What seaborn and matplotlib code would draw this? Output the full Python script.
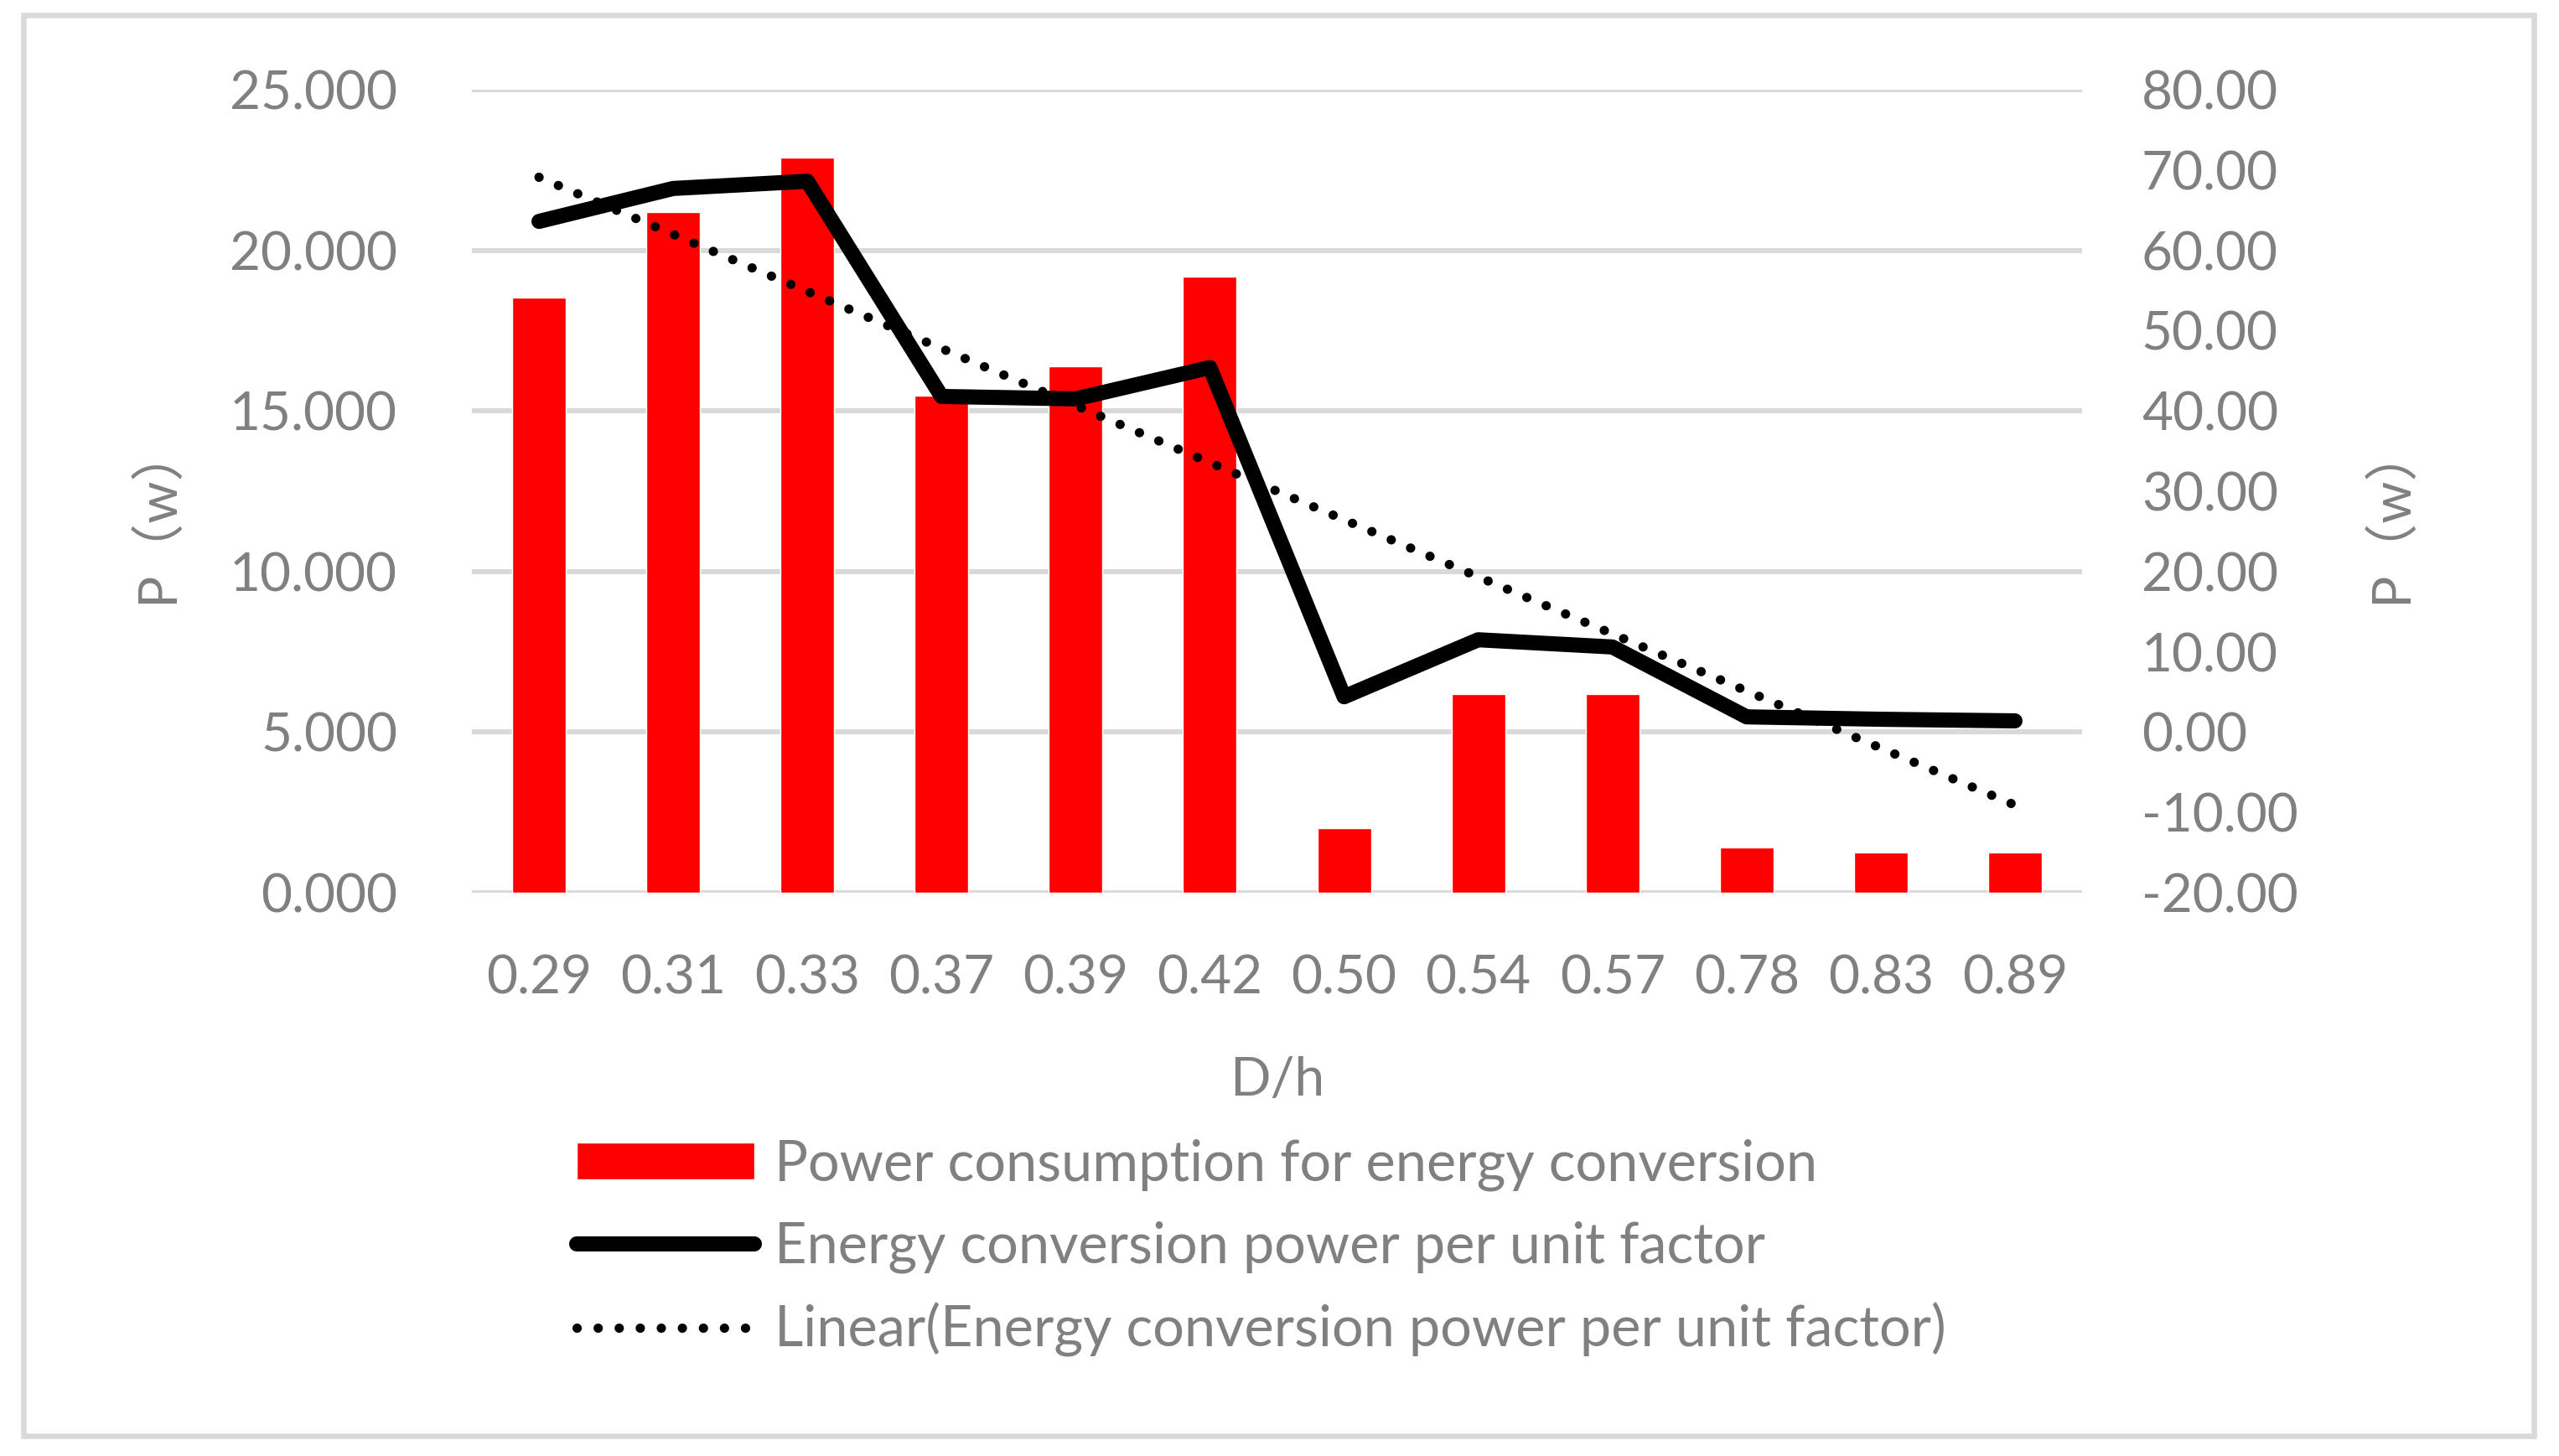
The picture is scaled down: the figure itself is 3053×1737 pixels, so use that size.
import numpy as np
import pandas as pd
import matplotlib
matplotlib.use("Agg")
import matplotlib.pyplot as plt
import seaborn as sns
from matplotlib.patches import Rectangle
from matplotlib.ticker import FormatStrFormatter, MultipleLocator

# =========================================================
# DATA
# =========================================================

d_over_h = ["0.29", "0.31", "0.33", "0.37", "0.39", "0.42",
            "0.50", "0.54", "0.57", "0.78", "0.83", "0.89"]

# left axis: power consumption for energy conversion (bars)
consumption = [18.53, 21.19, 22.89, 15.48, 16.40, 19.18,
               2.01, 6.18, 6.18, 1.41, 1.25, 1.25]

# right axis: energy conversion power per unit factor (line)
per_unit = [63.6, 67.7, 68.6, 41.8, 41.5, 45.4,
            4.4, 11.5, 10.6, 1.9, 1.6, 1.4]

bar_label = "Power consumption for energy conversion"
line_label = "Energy conversion power per unit factor"
trend_label = "Linear(Energy conversion power per unit factor)"

df = pd.DataFrame({"D/h": d_over_h, "consumption": consumption, "per_unit": per_unit})

# =========================================================
# STYLE
# =========================================================

sns.set_style("white")
plt.rcParams["font.family"] = ["Lato", "Noto Sans CJK SC", "DejaVu Sans"]
plt.rcParams["axes.unicode_minus"] = False

grey_text = "#808080"
grid_col = "#D9D9D9"
fs = 46
legend_fs = 48

W, H = 3053, 1737
fig = plt.figure(figsize=(W / 100, H / 100), dpi=100)

# axes box in pixels: x 563..2484, y 107..1065
ax = fig.add_axes([563 / W, 1 - 1065 / H, (2484 - 563) / W, (1065 - 107) / H])

# =========================================================
# BARS
# =========================================================

sns.barplot(data=df, x="D/h", y="consumption", color="#FF0000",
            saturation=1, width=0.4, ax=ax, zorder=2)

ax.set_ylim(0, 25)
ax.yaxis.set_major_locator(MultipleLocator(5))
ax.yaxis.set_major_formatter(FormatStrFormatter("%.3f"))
ax.set_xlim(-0.5, len(d_over_h) - 0.5)
ax.grid(axis="y", color=grid_col, linewidth=4.3, zorder=0)
ax.grid(axis="x", visible=False)
ax.set_axisbelow(True)

# =========================================================
# LINE + LINEAR TREND (right axis)
# =========================================================

ax2 = ax.twinx()
xpos = np.arange(len(d_over_h))

sns.lineplot(x=xpos, y=df["per_unit"], ax=ax2, color="black",
             linewidth=13, solid_capstyle="round", solid_joinstyle="round",
             label=line_label, legend=False)

slope, intercept = np.polyfit(xpos, df["per_unit"], 1)
trend = slope * xpos + intercept
sns.lineplot(x=xpos, y=trend, ax=ax2, color="black", linewidth=8,
             linestyle=(0, (0.01, 2.25)), dash_capstyle="round",
             label=trend_label, legend=False)

ax2.set_ylim(-20, 80)
ax2.yaxis.set_major_locator(MultipleLocator(10))
ax2.yaxis.set_major_formatter(FormatStrFormatter("%.2f"))
ax2.grid(False)

for a in (ax, ax2):
    for s in a.spines.values():
        s.set_visible(False)

ax.tick_params(axis="y", length=0, pad=64, labelsize=fs, labelcolor=grey_text)
ax.tick_params(axis="x", length=0, pad=53, labelsize=fs, labelcolor=grey_text)
ax2.tick_params(axis="y", length=0, pad=51, labelsize=fs, labelcolor=grey_text)

# axis titles
ax.set_xlabel("D/h", fontsize=fs, color=grey_text, va="center")
ax.xaxis.set_label_coords(0.5, -(1289 - 1065) / (1065 - 107))

ax.set_ylabel("P（w）", fontsize=fs, color=grey_text, va="center")
ax.yaxis.set_label_coords((187 - 563) / (2484 - 563), 1 - (612 - 107) / (1065 - 107))

ax2.set_ylabel("P（w）", fontsize=fs, color=grey_text, va="center", rotation=90)
ax2.yaxis.set_label_coords((2852 - 563) / (2484 - 563), 1 - (612 - 107) / (1065 - 107))

# =========================================================
# LEGEND
# =========================================================

handles = [ax.patches[0], ax2.lines[0], ax2.lines[1]]
labels = [bar_label, line_label, trend_label]

fig.legend(handles, labels, loc="center left",
           bbox_to_anchor=(688 / W, 1 - 1489 / H),
           frameon=False, fontsize=legend_fs, labelcolor=grey_text,
           handlelength=3.18, handleheight=0.63, handletextpad=0.36,
           labelspacing=0.53, borderpad=0, borderaxespad=0)

# outer chart border
fig.patches.append(Rectangle((27.5 / W, 1 - 1713 / H), (3023 - 27.5) / W, (1713 - 17.5) / H,
                             transform=fig.transFigure, fill=False,
                             edgecolor=grid_col, linewidth=4.7))

fig.savefig("out.png", dpi=100, facecolor="white")
